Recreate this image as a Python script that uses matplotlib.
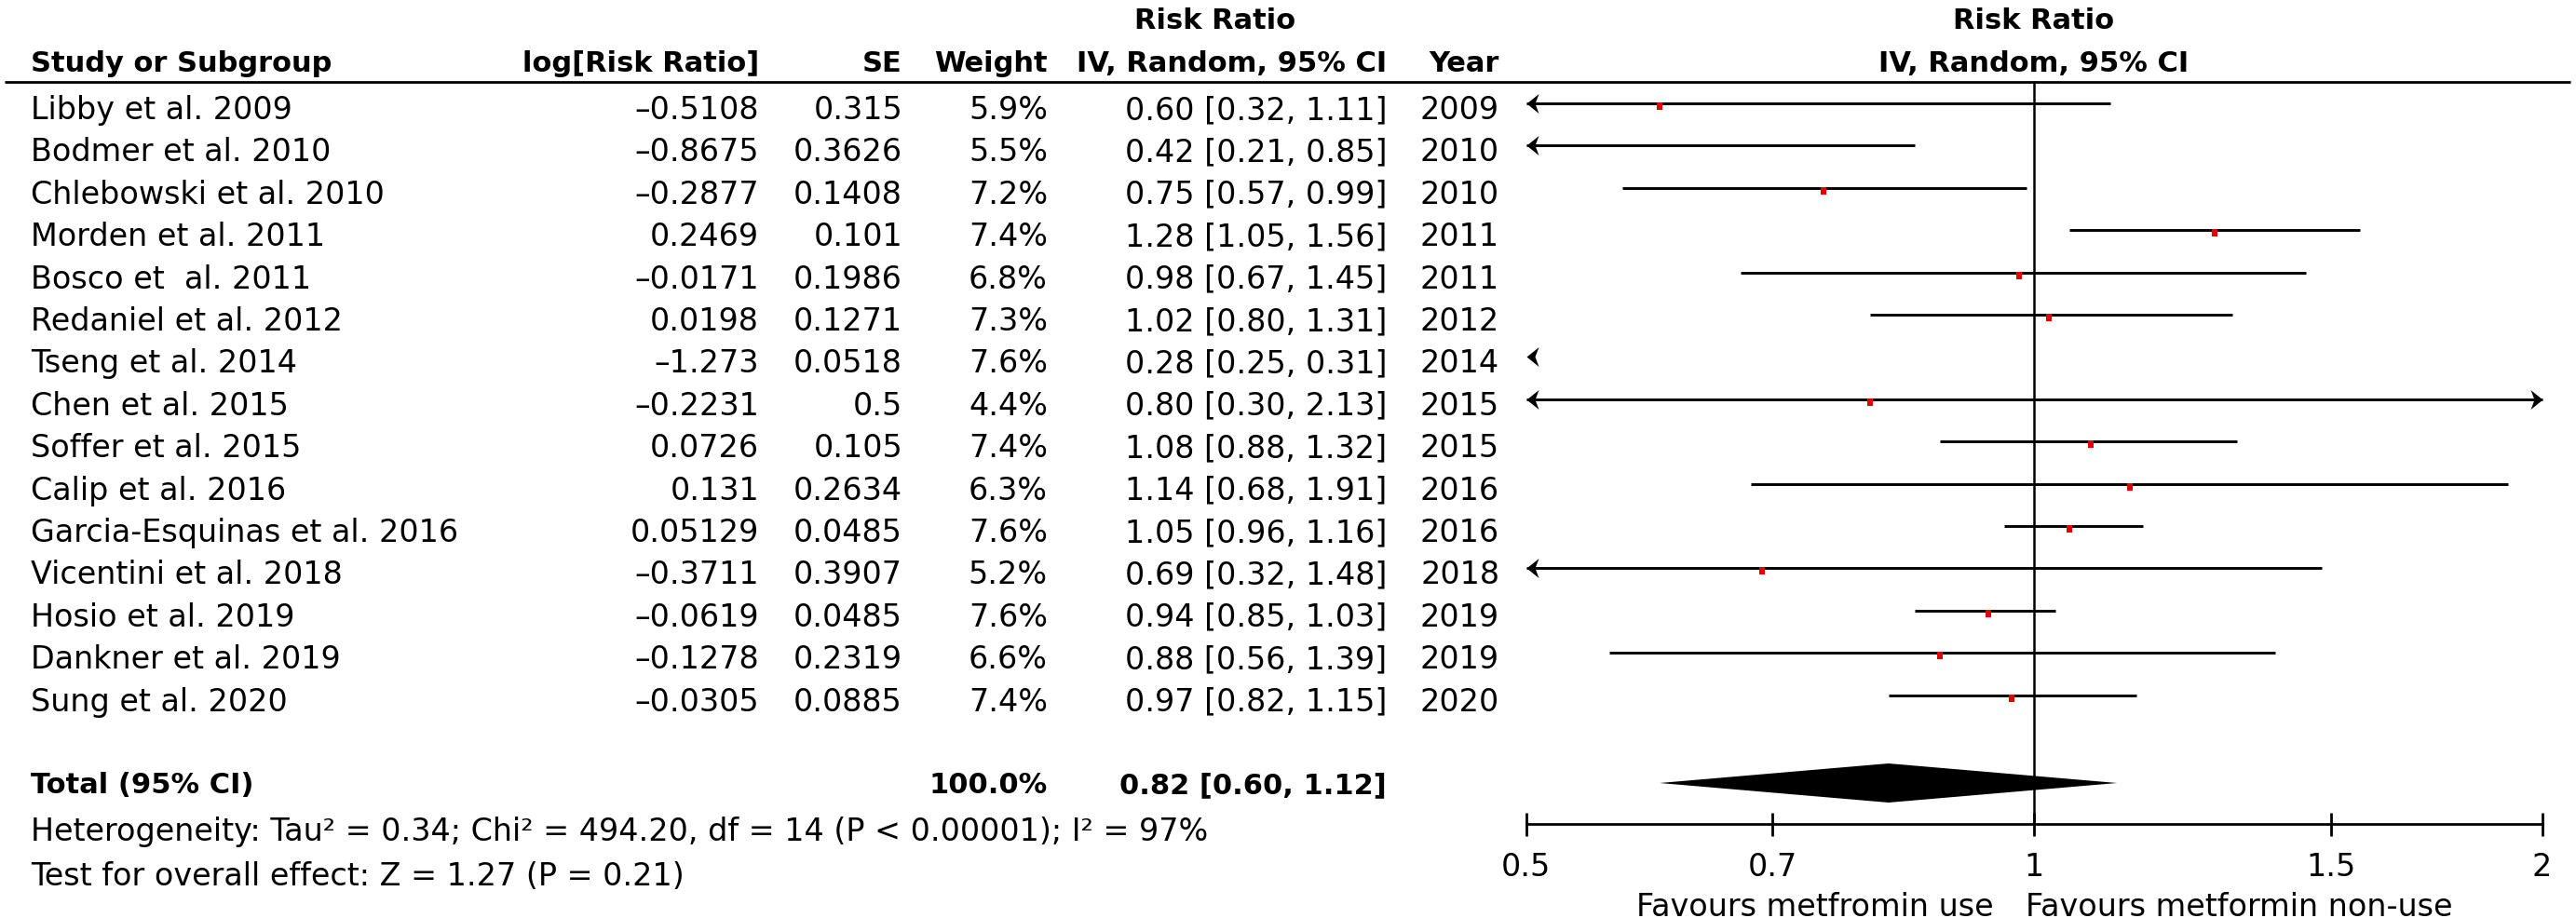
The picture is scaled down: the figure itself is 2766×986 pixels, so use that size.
import matplotlib
matplotlib.use("Agg")
import matplotlib.pyplot as plt
from matplotlib.path import Path
from matplotlib.transforms import offset_copy

# ---------------- data ----------------
studies = ["Libby et al. 2009", "Bodmer et al. 2010", "Chlebowski et al. 2010",
           "Morden et al. 2011", "Bosco et  al. 2011", "Redaniel et al. 2012",
           "Tseng et al. 2014", "Chen et al. 2015", "Soffer et al. 2015",
           "Calip et al. 2016", "Garcia-Esquinas et al. 2016", "Vicentini et al. 2018",
           "Hosio et al. 2019", "Dankner et al. 2019", "Sung et al. 2020"]
log_rr = [-0.5108, -0.8675, -0.2877, 0.2469, -0.0171, 0.0198, -1.273, -0.2231,
          0.0726, 0.131, 0.05129, -0.3711, -0.0619, -0.1278, -0.0305]
se = [0.315, 0.3626, 0.1408, 0.101, 0.1986, 0.1271, 0.0518, 0.5,
      0.105, 0.2634, 0.0485, 0.3907, 0.0485, 0.2319, 0.0885]
weights = [5.9, 5.5, 7.2, 7.4, 6.8, 7.3, 7.6, 4.4, 7.4, 6.3, 7.6, 5.2, 7.6, 6.6, 7.4]
rr = [0.60, 0.42, 0.75, 1.28, 0.98, 1.02, 0.28, 0.80, 1.08, 1.14, 1.05, 0.69, 0.94, 0.88, 0.97]
ci_lo = [0.32, 0.21, 0.57, 1.05, 0.67, 0.80, 0.25, 0.30, 0.88, 0.68, 0.96, 0.32, 0.85, 0.56, 0.82]
ci_hi = [1.11, 0.85, 0.99, 1.56, 1.45, 1.31, 0.31, 2.13, 1.32, 1.91, 1.16, 1.48, 1.03, 1.39, 1.15]
years = [2009, 2010, 2010, 2011, 2011, 2012, 2014, 2015, 2015, 2016, 2016, 2018, 2019, 2019, 2020]

total_weight = 100.0
total_rr, total_lo, total_hi = 0.82, 0.60, 1.12
heterogeneity = "Heterogeneity: Tau² = 0.34; Chi² = 494.20, df = 14 (P < 0.00001); I² = 97%"
overall = "Test for overall effect: Z = 1.27 (P = 0.21)"
xticks = [0.5, 0.7, 1, 1.5, 2]
xtick_labels = ["0.5", "0.7", "1", "1.5", "2"]
x_min, x_max = 0.5, 2
favours_left = "Favours metfromin use"
favours_right = "Favours metformin non-use"

# ---------------- layout ----------------
W, H = 2766, 987
plt.rcParams["font.family"] = ["DejaVu Sans"]
FS, FSB = 24, 22

fig = plt.figure(figsize=(W / 100, H / 100), dpi=100)
tab = fig.add_axes([0, 0, 1, 1])
tab.set_xlim(0, W)
tab.set_ylim(H, 0)
tab.axis("off")

px0, px1 = 1638.5, 2729.5
ax = fig.add_axes([px0 / W, 0, (px1 - px0) / W, 1])
ax.set_xscale("log")
ax.set_xlim(x_min, x_max)
ax.set_ylim(H, 0)
ax.patch.set_alpha(0)
for s in ["top", "left", "right"]:
    ax.spines[s].set_visible(False)
axis_y = 886
ax.spines["bottom"].set_position(("data", axis_y))
ax.spines["bottom"].set_linewidth(2)
ax.set_yticks([])
ax.set_xticks(xticks)
ax.set_xticklabels(xtick_labels)
ax.minorticks_off()
ax.tick_params(axis="x", which="major", direction="inout", length=18, width=2,
               labelsize=FS, pad=12)

# column x positions (right edges)
x_study = 33
x_log = 815
x_se = 969
x_w = 1125
x_ci = 1489
x_year = 1610
x_rr_center = 1305

# header
hdr_base = 77
tab.text(x_rr_center, 31, "Risk Ratio", fontsize=FSB, fontweight="bold", ha="center", va="baseline")
ax.text(1, 31, "Risk Ratio", fontsize=FSB, fontweight="bold", ha="center", va="baseline")
tab.text(x_study, hdr_base, "Study or Subgroup", fontsize=FSB, fontweight="bold", ha="left", va="baseline")
tab.text(x_log, hdr_base, "log[Risk Ratio]", fontsize=FSB, fontweight="bold", ha="right", va="baseline")
tab.text(x_se, hdr_base, "SE", fontsize=FSB, fontweight="bold", ha="right", va="baseline")
tab.text(x_w, hdr_base, "Weight", fontsize=FSB, fontweight="bold", ha="right", va="baseline")
tab.text(x_ci, hdr_base, "IV, Random, 95% CI", fontsize=FSB, fontweight="bold", ha="right", va="baseline")
tab.text(x_year, hdr_base, "Year", fontsize=FSB, fontweight="bold", ha="right", va="baseline")
ax.text(1, hdr_base, "IV, Random, 95% CI", fontsize=FSB, fontweight="bold", ha="center", va="baseline")
line_y = 89
tab.plot([5, 2760], [line_y, line_y], color="black", lw=2, solid_capstyle="butt")


def fmt(v):
    return str(v).replace("-", "–")


row0, dy = 128, 45.4
left_arrow = Path([(0, 0), (1.24, 1), (0.86, 0), (1.24, -1), (0, 0)],
                  [Path.MOVETO, Path.LINETO, Path.LINETO, Path.LINETO, Path.CLOSEPOLY])
right_arrow = Path([(0, 0), (-1.24, 1), (-0.86, 0), (-1.24, -1), (0, 0)],
                   [Path.MOVETO, Path.LINETO, Path.LINETO, Path.LINETO, Path.CLOSEPOLY])
box = Path([(-0.42, -0.5), (0.42, -0.5), (0.42, 0.5), (-0.42, 0.5), (-0.42, -0.5)],
           [Path.MOVETO, Path.LINETO, Path.LINETO, Path.LINETO, Path.CLOSEPOLY])
mark_tr = offset_copy(ax.transData, fig=fig, y=-3, units="dots")

for i, name in enumerate(studies):
    yb = row0 + dy * i
    tab.text(x_study, yb, name, fontsize=FS, ha="left", va="baseline")
    tab.text(x_log, yb, fmt(log_rr[i]), fontsize=FS, ha="right", va="baseline")
    tab.text(x_se, yb, fmt(se[i]), fontsize=FS, ha="right", va="baseline")
    tab.text(x_w, yb, f"{weights[i]:.1f}%", fontsize=FS, ha="right", va="baseline")
    tab.text(x_ci, yb, f"{rr[i]:.2f} [{ci_lo[i]:.2f}, {ci_hi[i]:.2f}]", fontsize=FS, ha="right", va="baseline")
    tab.text(x_year, yb, str(years[i]), fontsize=FS, ha="right", va="baseline")

    yl = yb - 16
    lo = max(ci_lo[i], x_min)
    hi = min(ci_hi[i], x_max)
    if hi > lo:
        ax.plot([lo, hi], [yl, yl], color="black", lw=2.1, solid_capstyle="butt", clip_on=False)
    if ci_lo[i] < x_min:
        ax.plot([x_min], [yl], marker=left_arrow, ms=18.7, color="black", mew=0, clip_on=False)
    if ci_hi[i] > x_max:
        ax.plot([x_max], [yl], marker=right_arrow, ms=18.7, color="black", mew=0, clip_on=False)
    if x_min <= rr[i] <= x_max:
        ax.plot([rr[i]], [yl], marker=box, ms=4.6 + 0.17 * weights[i], color="#e00000",
                mew=0, transform=mark_tr, zorder=5)

# total
tot_b = 852
tab.text(x_study, tot_b, "Total (95% CI)", fontsize=FSB, fontweight="bold", ha="left", va="baseline")
tab.text(x_w, tot_b, f"{total_weight:.1f}%", fontsize=FSB, fontweight="bold", ha="right", va="baseline")
tab.text(x_ci, tot_b, f"{total_rr:.2f} [{total_lo:.2f}, {total_hi:.2f}]", fontsize=FSB,
         fontweight="bold", ha="right", va="baseline")
yc, hh = 842, 21
ax.fill([total_lo, total_rr, total_hi, total_rr], [yc, yc - hh, yc, yc + hh],
        color="black", lw=0, zorder=4)

tab.text(x_study, 903, heterogeneity, fontsize=FS, ha="left", va="baseline")
tab.text(x_study, 951, overall, fontsize=FS, ha="left", va="baseline")

# reference line at 1
ax.plot([1, 1], [line_y, axis_y], color="black", lw=1.8, zorder=3)

# favours labels
ax.annotate(favours_left, xy=(1, 984), xytext=(-43, 0), textcoords="offset pixels",
            fontsize=FS, ha="right", va="baseline", annotation_clip=False)
ax.annotate(favours_right, xy=(1, 984), xytext=(-9, 0), textcoords="offset pixels",
            fontsize=FS, ha="left", va="baseline", annotation_clip=False)

fig.savefig("out.png", dpi=100)
